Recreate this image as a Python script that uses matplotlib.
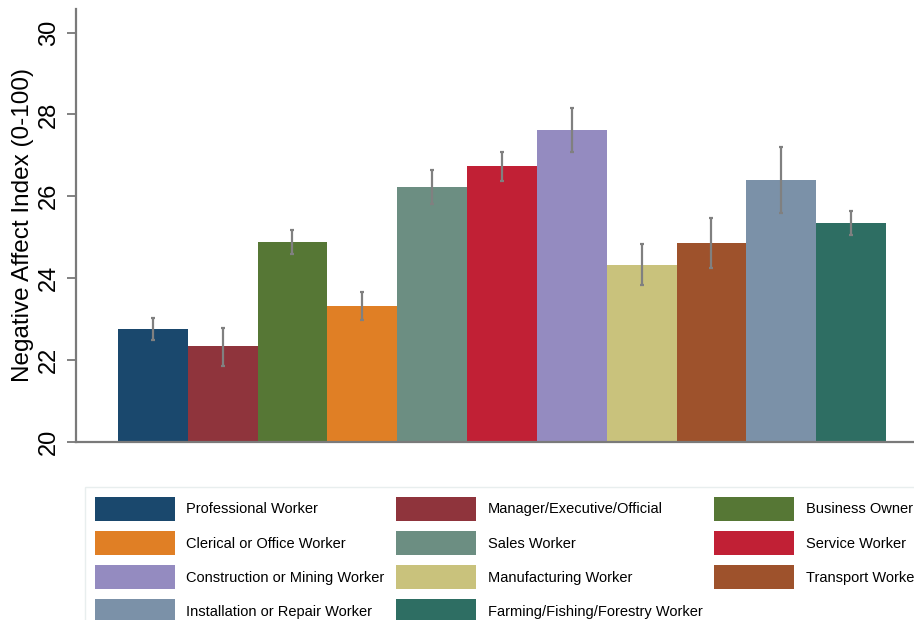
import matplotlib
matplotlib.use("Agg")
import matplotlib.pyplot as plt
import numpy as np

plt.rcParams['font.family'] = ['Liberation Sans', 'DejaVu Sans']

categories = ["Professional Worker", "Manager/Executive/Official", "Business Owner",
              "Clerical or Office Worker", "Sales Worker", "Service Worker",
              "Construction or Mining Worker", "Manufacturing Worker", "Transport Worker",
              "Installation or Repair Worker", "Farming/Fishing/Forestry Worker"]
values = [22.76, 22.33, 24.87, 23.31, 26.22, 26.73, 27.62, 24.33, 24.86, 26.39, 25.35]
ci_low = [22.49, 21.86, 24.60, 22.98, 25.82, 26.38, 27.09, 23.84, 24.25, 25.59, 25.06]
ci_high = [23.03, 22.79, 25.18, 23.67, 26.65, 27.08, 28.16, 24.83, 25.48, 27.20, 25.65]
colors = ["#1a486d", "#8f343c", "#567735", "#e07f25", "#6c8e82", "#c12035",
          "#948bc0", "#c9c27c", "#9e522c", "#7b91a8", "#2e6e63"]
yticks = [20, 22, 24, 26, 28, 30]

fig = plt.figure(figsize=(9.14, 6.2), dpi=100)
ax = fig.add_axes([76/914, 1 - 441.7/620, 1 - 76/914, (441.7 - 9.3)/620])

x = np.arange(len(categories))
vals = np.array(values)
yerr = np.vstack([vals - np.array(ci_low), np.array(ci_high) - vals])
bars = ax.bar(x, vals - 20, bottom=20, width=1.0, color=colors, edgecolor='none')
ax.errorbar(x, vals, yerr=yerr, fmt='none', ecolor='#808080', elinewidth=1.6,
            capsize=1.5, capthick=1.6)

ax.set_xlim(-1.1, 10.9)
ax.set_ylim(20, 30.57)
ax.set_yticks(yticks)
ax.set_yticklabels([str(t) for t in yticks], rotation=90, va='center', fontsize=17)
ax.tick_params(axis='y', direction='out', length=6.5, width=1.3, color='#777777', pad=5)
ax.set_xticks([])
for s in ['top', 'right']:
    ax.spines[s].set_visible(False)
for s in ['left', 'bottom']:
    ax.spines[s].set_color('#7a7a7a')
    ax.spines[s].set_linewidth(1.6)
ax.set_ylabel("Negative Affect Index (0-100)", fontsize=17.5, labelpad=3)

order = [0, 3, 6, 9, 1, 4, 7, 10, 2, 5, 8]
handles = [bars[i] for i in order]
labels = [categories[i] for i in order]
fs = 10.5
fsp = fs * 100 / 72
leg = fig.legend(handles, labels, ncol=3, loc='upper left',
                 bbox_to_anchor=(85/914, 1 - 486.7/620), fontsize=fs,
                 handlelength=80/fsp, handleheight=2.19,
                 handletextpad=11.5/fsp, labelspacing=(34.2-24.3)/fsp,
                 columnspacing=0.8, borderpad=10/fsp, borderaxespad=0,
                 frameon=True, fancybox=False)
leg.get_frame().set_edgecolor('#e3eaea')
leg.get_frame().set_linewidth(1.0)

fig.savefig("out.png", dpi=100)
